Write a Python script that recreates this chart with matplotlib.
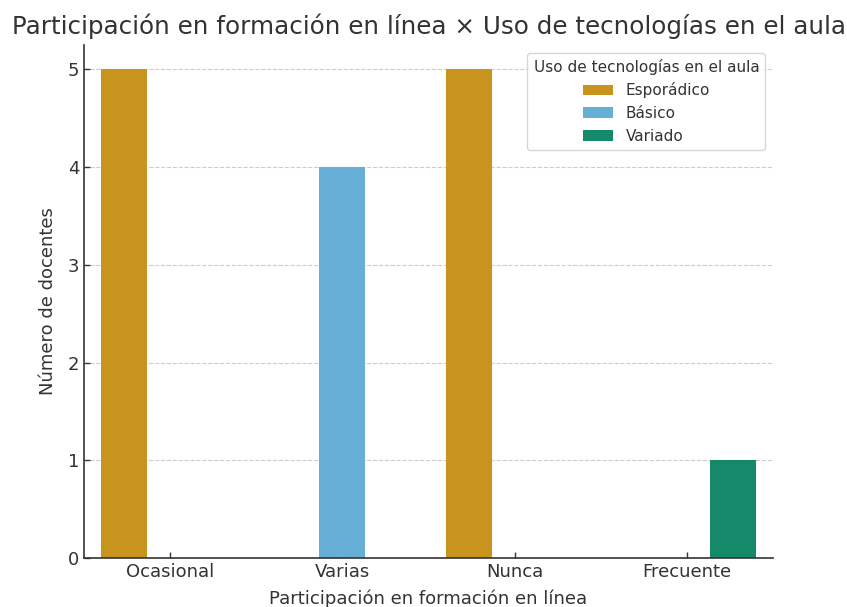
import numpy as np
import matplotlib.pyplot as plt

categorias = ['Ocasional', 'Varias', 'Nunca', 'Frecuente']
niveles = ['Esporádico', 'Básico', 'Variado']
# docentes por categoría (filas) y nivel de uso (columnas)
conteos = [[5, 0, 0],
           [0, 4, 0],
           [5, 0, 0],
           [0, 0, 1]]
colores = ['#C9941D', '#68AFD7', '#148A6A']

texto = '#333333'
plt.rcParams['font.family'] = 'DejaVu Sans'
plt.rcParams['text.color'] = texto
plt.rcParams['axes.labelcolor'] = texto
plt.rcParams['xtick.color'] = texto
plt.rcParams['ytick.color'] = texto

fig = plt.figure(figsize=(8.47, 6.07), dpi=100)
ax = fig.add_axes([84/847, 1 - 558/607, (773-84)/847, (558-45)/607])

x = np.arange(len(categorias))
ancho = 0.8 / len(niveles)
datos = np.array(conteos)
for j, nivel in enumerate(niveles):
    ax.bar(x + (j - 1) * ancho, datos[:, j], width=ancho, color=colores[j],
           label=nivel, zorder=2)

ax.set_xlim(-0.5, len(categorias) - 0.5)
ax.set_ylim(0, 5.25)
ax.set_xticks(x)
ax.set_xticklabels(categorias)
ax.set_yticks(range(6))
ax.tick_params(axis='both', direction='in', length=4, labelsize=13, width=1)
ax.grid(axis='y', linestyle='--', color='#cccccc', linewidth=0.8, zorder=0)
for lado in ['top', 'right']:
    ax.spines[lado].set_visible(False)
for lado in ['left', 'bottom']:
    ax.spines[lado].set_color(texto)
    ax.spines[lado].set_linewidth(1.2)

ax.set_xlabel('Participación en formación en línea', fontsize=13, labelpad=6)
ax.set_ylabel('Número de docentes', fontsize=13, labelpad=8)
ax.set_title('Participación en formación en línea × Uso de tecnologías en el aula',
             fontsize=17.7, pad=8)
ax.legend(title='Uso de tecnologías en el aula', loc='upper right',
          fontsize=11, title_fontsize=11, frameon=True)

fig.savefig('out.png', dpi=100)
